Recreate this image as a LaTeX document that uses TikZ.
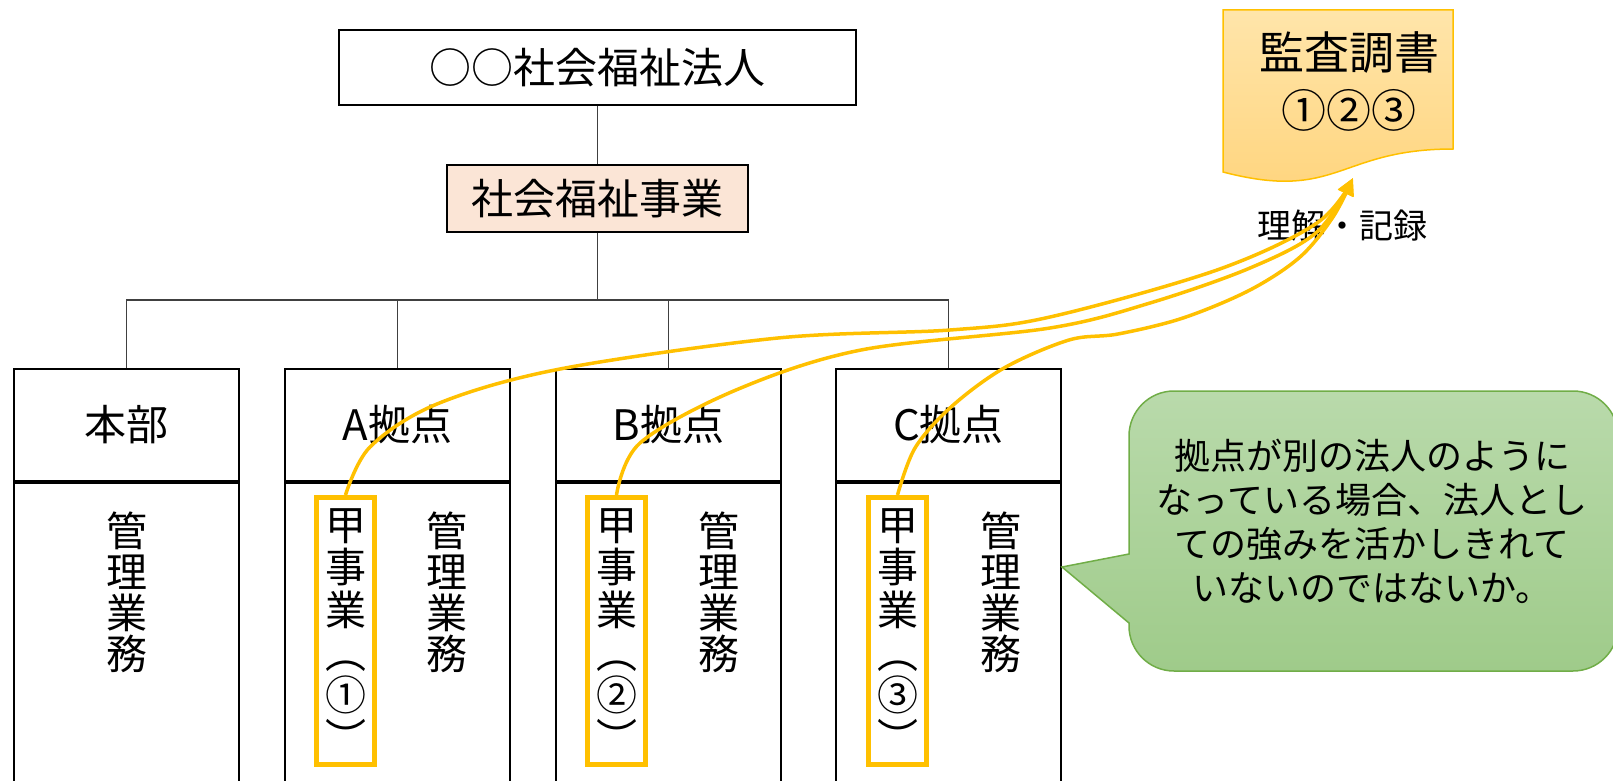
\documentclass[tikz,border=0pt]{standalone}
\usepackage{fontspec}
\setmainfont{Noto Sans CJK JP}
\usetikzlibrary{positioning, arrows.meta, calc}
\definecolor{LinkGold}{HTML}{FFC000}
\definecolor{PeachFill}{HTML}{FBE5D6}
\definecolor{DocTop}{HTML}{FFE5AA}
\definecolor{DocBottom}{HTML}{FFD47C}
\definecolor{NoteTop}{HTML}{B9DAAB}
\definecolor{NoteBottom}{HTML}{9FCB8A}
\definecolor{NoteEdge}{HTML}{70AD47}
\definecolor{TreeGray}{HTML}{404040}

\begin{document}
\begin{tikzpicture}[
    x=1pt, y=1pt,
    % Cajas del organigrama
    orgbox/.style={
            rectangle,
            draw=black,
            line width=2pt,
            inner sep=0pt,
            font=\fontsize{42pt}{50pt}\selectfont
        },
    % Cabecera de cada sede
    headbox/.style={
            orgbox,
            minimum width=225pt,
            minimum height=112pt
        },
    % Cuerpo de cada sede
    bodybox/.style={
            rectangle,
            draw=black,
            line width=2pt,
            minimum width=225pt,
            minimum height=320pt
        },
    % Caja del negocio
    bizbox/.style={
            rectangle,
            draw=LinkGold,
            line width=5pt,
            minimum width=58pt,
            minimum height=267pt,
            inner sep=0pt,
            align=center,
            font=\fontsize{41pt}{42.7pt}\selectfont
        },
    % Texto vertical
    vtext/.style={
            align=center,
            inner sep=0pt,
            font=\fontsize{41pt}{41pt}\selectfont
        },
    % Lineas del arbol
    tree/.style={
            draw=TreeGray,
            line width=1.3pt
        },
    % Flechas
    link/.style={
            draw=LinkGold,
            line width=3.5pt,
            -{Triangle[length=17pt,width=16pt]}
        },
    docshape/.style={
            top color=DocTop,
            bottom color=DocBottom,
            draw=LinkGold,
            line width=1.5pt
        },
    notebubble/.style={
            top color=NoteTop,
            bottom color=NoteBottom,
            draw=NoteEdge,
            line width=1.5pt
        },
    notetext/.style={
            align=center,
            inner sep=0pt,
            font=\fontsize{36pt}{44pt}\selectfont
        }
    ]
    \useasboundingbox (0,0) rectangle (1613,-781);
    \clip (0,0) rectangle (1613,-781);

    % ========== 法人 ==========
    \node[orgbox, minimum width=517pt, minimum height=75pt] (corp) at (597.5,-67.5) {○○社会福祉法人};
    \node[orgbox, fill=PeachFill, minimum width=301pt, minimum height=67pt, below=58pt of corp] (welfare) {社会福祉事業};
    \coordinate[below=67pt of welfare.south] (busHub);

    % ========== 拠点 ==========
    \node[headbox] (hqHead) at (126.5,-425) {本部};
    \node[headbox, right=44pt of hqHead] (siteAHead) {A拠点};
    \node[headbox, right=44pt of siteAHead] (siteBHead) {B拠点};
    \node[headbox, right=53pt of siteBHead] (siteCHead) {C拠点};

    \node[bodybox, below=0pt of hqHead] (hqBody) {};
    \node[bodybox, below=0pt of siteAHead] (siteABody) {};
    \node[bodybox, below=0pt of siteBHead] (siteBBody) {};
    \node[bodybox, below=0pt of siteCHead] (siteCBody) {};

    % 甲事業
    \node[bizbox, below right=13pt and 30pt of siteABody.north west] (bizA) {甲\\事\\業\\︵\\①\\︶};
    \node[bizbox, below right=13pt and 30pt of siteBBody.north west] (bizB) {甲\\事\\業\\︵\\②\\︶};
    \node[bizbox, below right=13pt and 31pt of siteCBody.north west] (bizC) {甲\\事\\業\\︵\\③\\︶};

    % 管理業務
    \node[vtext] (hqAdmin) at ($(hqBody.north)+(0,-110)$) {管\\理\\業\\務};
    \node[vtext] (siteAAdmin) at ($(siteABody.north)+(49,-110)$) {管\\理\\業\\務};
    \node[vtext] (siteBAdmin) at ($(siteBBody.north)+(50,-110)$) {管\\理\\業\\務};
    \node[vtext] (siteCAdmin) at ($(siteCBody.north)+(52,-110)$) {管\\理\\業\\務};

    % ========== 線 ==========
    \draw[tree] (corp.south) -- (welfare.north);
    \draw[tree] (welfare.south) -- (busHub);
    \draw[tree] (hqHead.north) |- (busHub);
    \draw[tree] (siteCHead.north) |- (busHub);
    \draw[tree] (siteAHead.north) -- (siteAHead.north |- busHub);
    \draw[tree] (siteBHead.north) -- (siteBHead.north |- busHub);

    % ========== 監査調書 ==========
    \path[docshape] (1223,-10) -- (1453,-10) -- (1453,-149)
        .. controls (1338,-149) and (1338,-202) .. (1223,-172) -- cycle;
    \node[align=center, font=\fontsize{45pt}{58pt}\selectfont] (auditDoc) at (1349,-81) {監査調書\\①②③};
    \coordinate (recTip) at (1353,-178);
    \node[font=\fontsize{34pt}{40pt}\selectfont, inner sep=0pt] (recLabel) at (1342,-226) {理解・記録};

    % ========== 吹き出し ==========
    \coordinate (noteTip) at (1062,-567);
    \path[notebubble] (noteTip) -- (1129,-554) -- (1129,-480)
        [rounded corners=45pt] -- (1129,-391) -- (1618,-391) -- (1618,-671) -- (1129,-671)
        [sharp corners] -- (1129,-623) -- cycle;
    \node[notetext] (noteText) at (1372,-521) {拠点が別の法人のように\\なっている場合、法人とし\\ての強みを活かしきれて\\いないのではないか。};

    % ========== 矢印 ==========
    \draw[link] plot[smooth, tension=0.55] coordinates {(bizA.north) (370,-447) (437,-404) (560,-369) (778,-338) (950,-330) (1050,-317) (1217,-270) (1317,-223) (recTip)};
    \draw[link] plot[smooth, tension=0.55] coordinates {(bizB.north) (640,-443) (736,-390) (861,-350) (1050,-328) (1150,-303) (1250,-268) (1317,-232) (recTip)};
    \draw[link] plot[smooth, tension=0.55] coordinates {(bizC.north) (915,-448) (951,-407) (1004,-368) (1069,-340) (1118,-334) (1183,-318) (1250,-290) (1300,-257) (1333,-217) (recTip)};

\end{tikzpicture}
\end{document}
